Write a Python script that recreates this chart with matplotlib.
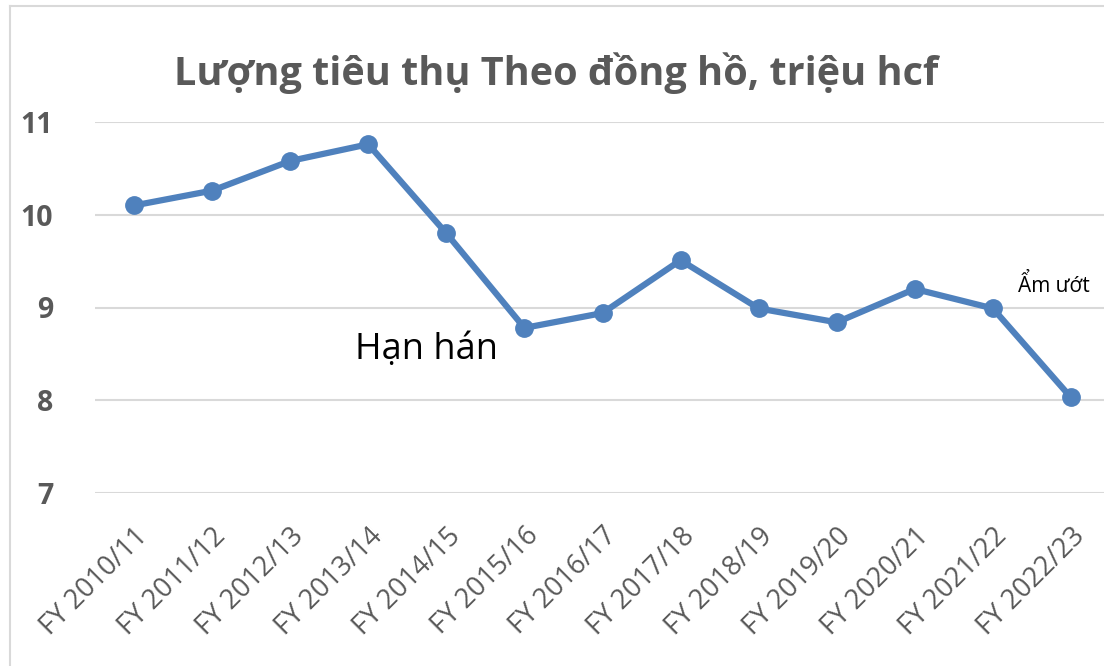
import matplotlib
matplotlib.use("Agg")
import matplotlib.pyplot as plt
from matplotlib.lines import Line2D

plt.rcParams['font.family'] = ['Open Sans', 'Noto Sans', 'DejaVu Sans']

# dữ liệu
years = ["FY 2010/11", "FY 2011/12", "FY 2012/13", "FY 2013/14", "FY 2014/15",
         "FY 2015/16", "FY 2016/17", "FY 2017/18", "FY 2018/19", "FY 2019/20",
         "FY 2020/21", "FY 2021/22", "FY 2022/23"]
usage = [10.10, 10.26, 10.58, 10.76, 9.80, 8.78, 8.94, 9.51, 8.99, 8.84, 9.20, 8.99, 8.03]
yticks = [7, 8, 9, 10, 11]

W, H = 1104, 666
fig = plt.figure(figsize=(W / 100, H / 100), dpi=100)
ax = fig.add_axes([95 / W, 1 - 493 / H, 1015 / W, (493 - 122) / H])

x = list(range(len(years)))
ax.plot(x, usage, color='#4f81bd', lw=4.5, marker='o', ms=12.5, zorder=3)

ax.set_xlim(-0.5, len(years) - 0.5)
ax.set_ylim(7, 11)
ax.set_yticks(yticks)
ax.set_yticklabels([str(v) for v in yticks], fontsize=20.5, fontweight='bold', color='#595959')
ax.set_xticks(x)
ax.set_xticklabels(years, rotation=45, ha='right', rotation_mode='anchor',
                   fontsize=19.5, color='#595959')
ax.tick_params(axis='y', length=0, pad=30)
ax.tick_params(axis='x', length=0, pad=21)
ax.grid(axis='y', color='#d9d9d9', lw=1.5)
ax.set_axisbelow(True)
for s in ax.spines.values():
    s.set_visible(False)

fig.text(556 / W, 1 - 85 / H, "Lượng tiêu thụ Theo đồng hồ, triệu hcf",
         ha='center', va='baseline', fontsize=28.5, fontweight='bold', color='#595959')

ax.text(3.74, 8.54, "Hạn hán", ha='center', va='center', fontsize=26, color='black')
ax.text(11.78, 9.24, "Ẩm ướt", ha='center', va='center', fontsize=15, color='black')

# khung viền
fig.add_artist(Line2D([10 / W, 10 / W], [0, 1 - 6 / H], color='#d9d9d9', lw=1.5))
fig.add_artist(Line2D([10 / W, 1], [1 - 6 / H, 1 - 6 / H], color='#d9d9d9', lw=1.5))

fig.savefig("out.png", dpi=100)
